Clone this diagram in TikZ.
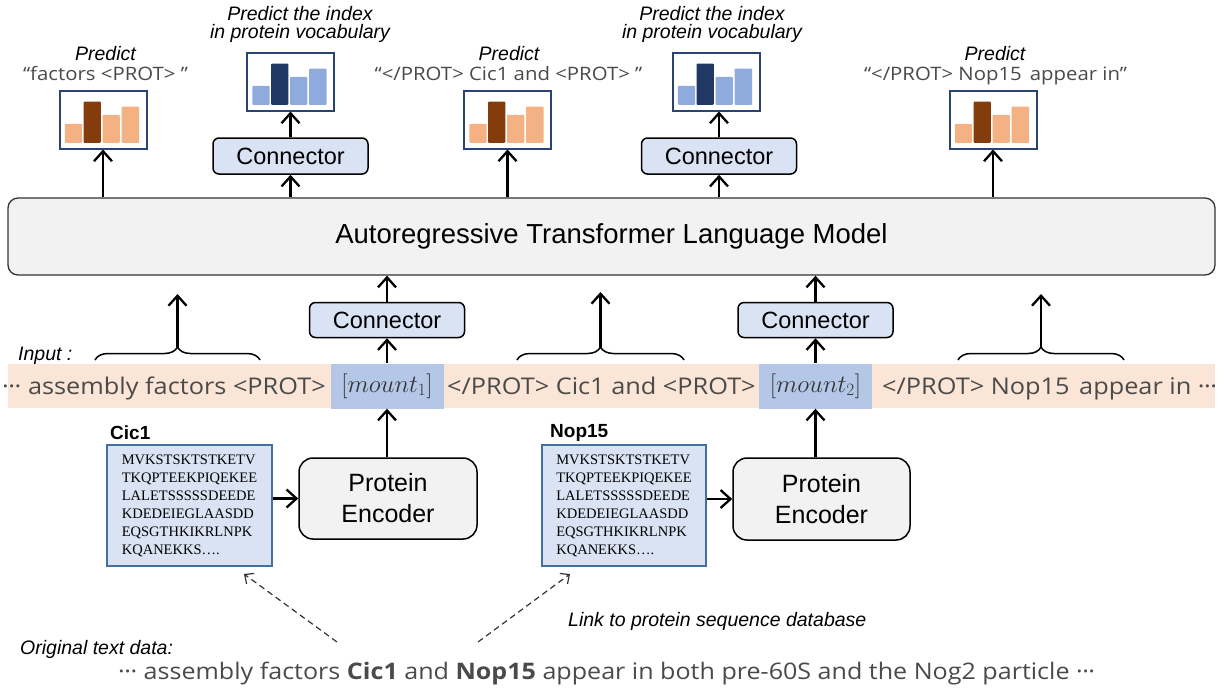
\documentclass[tikz,border=0pt]{standalone}
\usepackage{fontspec}
\setmainfont{Liberation Sans}
\newfontfamily\grayfont[FakeStretch=1.1]{Open Sans}
\newfontfamily\seqfont{Liberation Serif}
\usetikzlibrary{arrows.meta,decorations.pathreplacing}

\definecolor{lmfill}{HTML}{F2F2F2}
\definecolor{confill}{HTML}{DAE3F3}
\definecolor{stripfill}{HTML}{FBE5D6}
\definecolor{cellfill}{HTML}{B4C7E7}
\definecolor{seqborder}{HTML}{41719C}
\definecolor{histborder}{HTML}{2A4370}
\definecolor{orL}{HTML}{F4B183}
\definecolor{orD}{HTML}{843C0C}
\definecolor{blL}{HTML}{8FAADC}
\definecolor{blD}{HTML}{203864}
\definecolor{graytxt}{HTML}{4A4A4A}
\definecolor{mathtxt}{HTML}{333333}
\definecolor{dashcol}{HTML}{333333}

\newcommand{\mdots}{·\kern-0.5pt·\kern-0.5pt·}

\tikzset{
  arr/.style={line width=2.3pt, -{Straight Barb[length=10pt,width=18pt]}},
  dasharr/.style={dashcol, line width=1.2pt, dash pattern=on 6pt off 4pt, -{Straight Barb[length=7pt,width=13pt]}},
  lmbox/.style={draw=black!80, line width=1.3pt, fill=lmfill, rounded corners=10pt,
    minimum width=1207pt, minimum height=77pt, inner sep=0pt, font=\fontsize{27.5}{30}\selectfont},
  conbox/.style={draw=black, line width=1.5pt, fill=confill, rounded corners=6pt,
    minimum width=155pt, minimum height=36pt, inner sep=0pt, font=\fontsize{23.5}{26}\selectfont},
  encbox/.style={draw=black, line width=1.5pt, fill=lmfill, rounded corners=14pt,
    minimum width=178pt, minimum height=81pt, inner sep=0pt, align=center, font=\fontsize{25}{31}\selectfont},
  histbox/.style={draw=histborder, line width=2pt, fill=white, minimum width=87pt, minimum height=58pt, inner sep=0pt},
  seqbox/.style={draw=seqborder, line width=1.2pt, fill=confill, minimum width=165pt, minimum height=121pt,
    inner sep=0pt, align=left, font=\seqfont\fontsize{14.5}{18}\selectfont},
  stripbox/.style={fill=stripfill, minimum width=1207pt, minimum height=44pt, inner sep=0pt},
  cellbox/.style={fill=cellfill, minimum width=113pt, minimum height=45pt, inner sep=0pt, text=mathtxt,
    font=\fontsize{26.5}{30}\selectfont},
  lbl/.style={inner sep=0pt, font=\itshape\fontsize{19.5}{22}\selectfont},
  quotetxt/.style={inner sep=0pt, text=graytxt, font=\grayfont\fontsize{18.5}{22}\selectfont},
  stxt/.style={inner sep=0pt, anchor=base west, text=graytxt, font=\grayfont\fontsize{23}{26}\selectfont},
  bracestyle/.style={line width=1.5pt, decorate, decoration={brace, amplitude=13pt}},
  namelbl/.style={inner sep=0pt, anchor=west, font=\bfseries\fontsize{19}{22}\selectfont},
}

\newcommand{\histbars}[3]{%
  \begin{scope}[shift={(#1.south west)}]
    \fill[#2, rounded corners=1pt] (6.3,-6.7) rectangle (23.7,-25.7);
    \fill[#3, rounded corners=1pt] (25,-6.7) rectangle (42.3,-48);
    \fill[#2, rounded corners=1pt] (44,-6.7) rectangle (61.3,-34.7);
    \fill[#2, rounded corners=1pt] (63,-6.7) rectangle (80.7,-43);
  \end{scope}}

\begin{document}
\begin{tikzpicture}[x=1pt,y=-1pt]
\useasboundingbox (0,0) rectangle (1225,689);
\fill[white] (0,0) rectangle (1225,689);

% language model
\node[lmbox] (lm) at (611.5,236.5) {Autoregressive Transformer Language Model};

% top histograms
\node[histbox] (h1) at (103,119.5) {};
\node[histbox] (h2) at (290.5,81.5) {};
\node[histbox] (h3) at (507.5,119.5) {};
\node[histbox] (h4) at (716,81.5) {};
\node[histbox] (h5) at (993,119.5) {};
\histbars{h1}{orL}{orD}
\histbars{h2}{blL}{blD}
\histbars{h3}{orL}{orD}
\histbars{h4}{blL}{blD}
\histbars{h5}{orL}{orD}

\node[conbox] (ct1) at (290.5,156) {Connector};
\node[conbox] (ct2) at (719,156) {Connector};

\draw[arr] (lm.north -| h1) -- (h1.south);
\draw[arr] (lm.north -| ct1) -- (ct1.south);
\draw[arr] (ct1.north) -- (ct1.north |- h2.south);
\draw[arr] (lm.north -| h3) -- (h3.south);
\draw[arr] (lm.north -| ct2) -- (ct2.south);
\draw[arr] (ct2.north) -- (ct2.north |- h4.south);
\draw[arr] (lm.north -| h5) -- (h5.south);

% top labels
\node[lbl, anchor=base] (p1) at (105.5,60) {Predict};
\node[quotetxt, anchor=base] (q1) at (105.5,80) {“factors <PROT> ”};
\node[lbl, anchor=base] (p2a) at (300,20) {Predict the index};
\node[lbl, anchor=base] (p2b) at (300,38.5) {in protein vocabulary};
\node[lbl, anchor=base] (p3) at (509,60) {Predict};
\node[quotetxt, anchor=base] (q3) at (508.5,80) {“</PROT> Cic1 and <PROT> ”};
\node[lbl, anchor=base] (p4a) at (712,20) {Predict the index};
\node[lbl, anchor=base] (p4b) at (712,38.5) {in protein vocabulary};
\node[lbl, anchor=base] (p5) at (995,60) {Predict};
\node[quotetxt, anchor=base] (q5) at (995.5,80) {“</PROT> Nop15\hspace{8pt}appear in”};

% input strip
\node[stripbox] (strip) at (611.5,386) {};
\node[cellbox] (m1) at (387,386) {$[mount_1]$};
\node[cellbox] (m2) at (815.5,386) {$[mount_2]$};
\node[stxt, anchor=base east] (t1) at (326,394) {\mdots\ assembly factors <PROT>};
\node[stxt] (t2) at (447,394) {</PROT> Cic1 and <PROT>};
\node[stxt] (t3) at (882,394) {</PROT> Nop15\hspace{3pt} appear in \mdots};
\node[lbl, anchor=west] (inp) at (18,356) {Input :};

% bottom connectors
\node[conbox, minimum height=35pt] (cb1) at (387,320) {Connector};
\node[conbox, minimum height=35pt] (cb2) at (815.5,320) {Connector};
\draw[arr] (m1.north) -- (cb1.south);
\draw[arr] (cb1.north) -- (cb1.north |- lm.south);
\draw[arr] (m2.north) -- (cb2.south);
\draw[arr] (cb2.north) -- (cb2.north |- lm.south);

% braces
\draw[bracestyle] (95,360) -- (260,360);
\draw[bracestyle] (517,360) -- (684,360);
\draw[bracestyle] (958,360) -- (1124,360);
\coordinate (b1) at (177.5,347);
\coordinate (u1) at (177.5,294);
\coordinate (b2) at (600.5,347);
\coordinate (u2) at (600.5,292);
\coordinate (b3) at (1041,347);
\coordinate (u3) at (1041,294);
\draw[arr] (b1) -- (u1);
\draw[arr] (b2) -- (u2);
\draw[arr] (b3) -- (u3);

% protein encoders
\node[encbox] (e1) at (388,498.5) {Protein\\Encoder};
\node[encbox, minimum width=177pt, minimum height=82pt] (e2) at (821.5,499) {Protein\\Encoder};
\draw[arr] (e1.north -| m1) -- (m1.south);
\draw[arr] (e2.north -| m2) -- (m2.south);

% sequences
\node[seqbox] (s1) at (189.5,505.5) {MVKSTSKTSTKETV\\TKQPTEEKPIQEKEE\\LALETSSSSSDEEDE\\KDEDEIEGLAASDD\\EQSGTHKIKRLNPK\\KQANEKKS….};
\node[seqbox, minimum width=164pt] (s2) at (624,505.5) {MVKSTSKTSTKETV\\TKQPTEEKPIQEKEE\\LALETSSSSSDEEDE\\KDEDEIEGLAASDD\\EQSGTHKIKRLNPK\\KQANEKKS….};
\node[namelbl] (n1) at (110,433) {Cic1};
\node[namelbl] (n2) at (550,433) {Nop15};
\draw[arr] (s1.east |- e1.west) -- (e1.west);
\draw[arr] (s2.east |- e2.west) -- (e2.west);

% original text and links
\node[lbl, anchor=base west] (link) at (568,626) {Link to protein sequence database};
\node[lbl, anchor=base west] (origlbl) at (20,654) {Original text data:};
\node[stxt, font=\grayfont\fontsize{22.8}{26}\selectfont] (orig) at (118,679) {\mdots\ assembly factors \textbf{Cic1} and \textbf{Nop15} appear in both pre-60S and the Nog2 particle \mdots};
\coordinate (d1a) at (337,642);
\coordinate (d1b) at (244,574);
\coordinate (d2a) at (478,642);
\coordinate (d2b) at (570,574);
\draw[dasharr] (d1a) -- (d1b);
\draw[dasharr] (d2a) -- (d2b);
\end{tikzpicture}
\end{document}
